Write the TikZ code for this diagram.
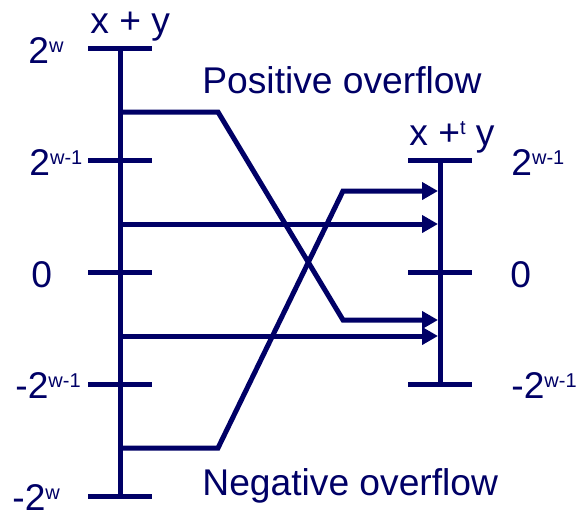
\documentclass[tikz,border=0pt]{standalone}
\usepackage{fontspec}
\setmainfont{Liberation Sans}
\usetikzlibrary{arrows.meta}
\definecolor{ovfnavy}{HTML}{000066}
\newcommand{\sups}[1]{\raisebox{5.5pt}{\fontsize{10}{10}\selectfont #1}}
\tikzset{
  axisline/.style={draw=ovfnavy,line width=2.5pt},
  mapline/.style={draw=ovfnavy,line width=2.5pt,-{Triangle[length=8pt,width=8.5pt]}},
  numlabel/.style={anchor=base west,inner sep=0pt,text=ovfnavy,font=\fontsize{18.6}{22}\selectfont}
}
\begin{document}
\begin{tikzpicture}[x=0.5pt,y=-0.5pt]
\useasboundingbox (0,0) rectangle (579,511);
% the two axes
\coordinate (ltop) at (120,48);
\coordinate (lbot) at (120,496);
\coordinate (rtop) at (440,160);
\coordinate (rbot) at (440,384);
\draw[axisline] (ltop) -- (lbot);
\draw[axisline] (rtop) -- (rbot);
\foreach \y in {48,160,272,384,496}{\draw[axisline] (88,\y) -- (152,\y);}
\foreach \y in {160,272,384}{\draw[axisline] (408,\y) -- (472,\y);}
% value labels
\node[numlabel] (lw) at (28,63) {2\sups{w}};
\node[numlabel] (lw1) at (29,175) {2\sups{w-1}};
\node[numlabel] (lz) at (31,287) {0};
\node[numlabel] (lmw1) at (15,398) {-2\sups{w-1}};
\node[numlabel] (lmw) at (12,510) {-2\sups{w}};
\node[numlabel] (rw1) at (511,175) {2\sups{w-1}};
\node[numlabel] (rz) at (510,287) {0};
\node[numlabel] (rmw1) at (511,398) {-2\sups{w-1}};
\node[numlabel] (lsum) at (90,33) {x + y};
\node[numlabel] (rsum) at (409,145) {x +\sups{t} y};
\node[numlabel] (pos) at (202,93) {Positive overflow};
\node[numlabel] (neg) at (202,495) {Negative overflow};
% mapping
\coordinate (a1) at (120,112); \coordinate (a2) at (218,112);
\coordinate (a3) at (343,320); \coordinate (a4) at (438,320);
\coordinate (b1) at (120,224); \coordinate (b2) at (438,224);
\coordinate (c1) at (120,336); \coordinate (c2) at (438,336);
\coordinate (d1) at (120,448); \coordinate (d2) at (218,448);
\coordinate (d3) at (343,191); \coordinate (d4) at (438,191);
\draw[mapline] (a1) -- (a2) -- (a3) -- (a4);
\draw[mapline] (b1) -- (b2);
\draw[mapline] (c1) -- (c2);
\draw[mapline] (d1) -- (d2) -- (d3) -- (d4);
\end{tikzpicture}
\end{document}
